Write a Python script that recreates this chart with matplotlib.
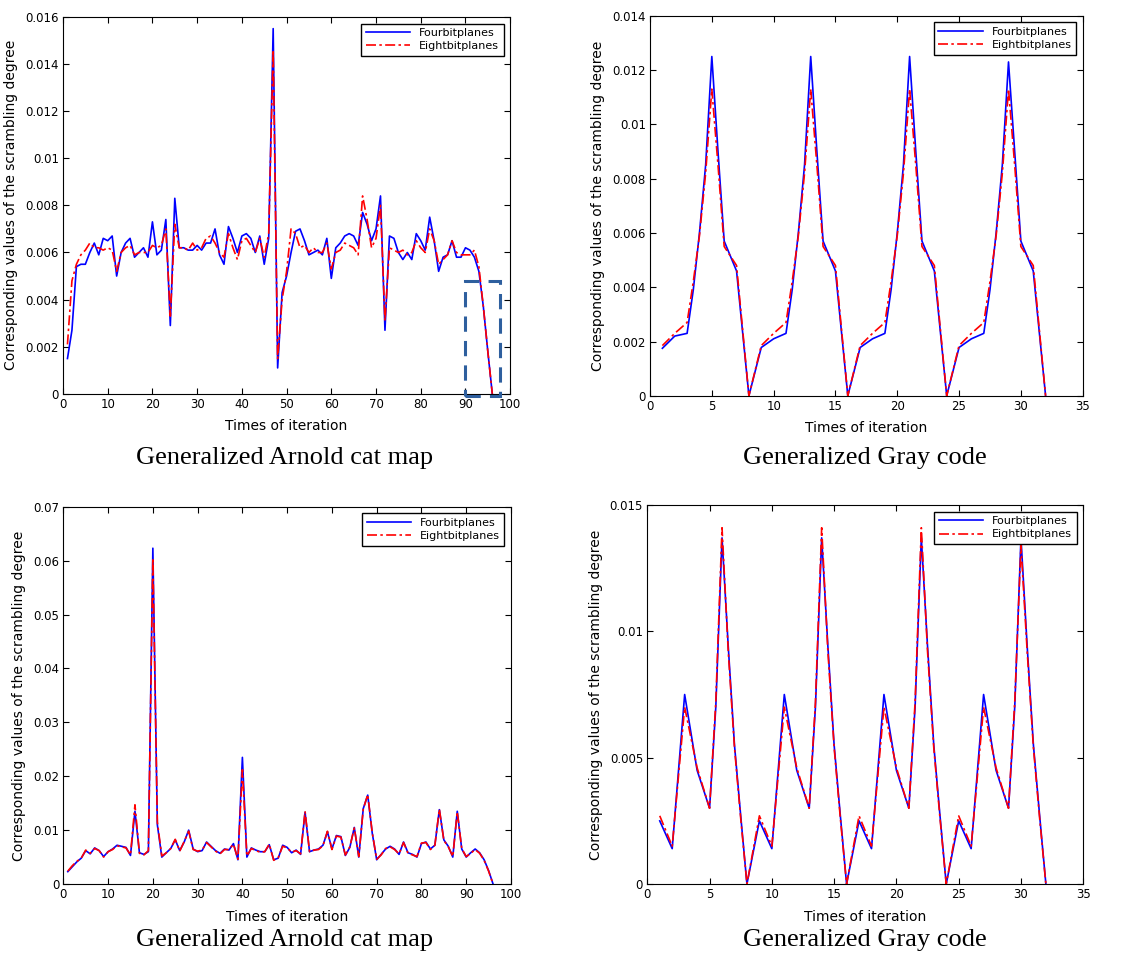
import matplotlib.pyplot as plt
from matplotlib.patches import Rectangle
import numpy as np

# iteration numbers for the Arnold cat map runs
iters_cat = np.arange(1, 97)

# Generalized Arnold cat map (top)
cat1_four = [0.0015, 0.0027, 0.0054, 0.0055, 0.0055, 0.0060, 0.0064, 0.0059, 0.0066, 0.0065,
             0.0067, 0.0050, 0.0060, 0.0064, 0.0066, 0.0058, 0.0060, 0.0062, 0.0058, 0.0073,
             0.0059, 0.0061, 0.0074, 0.0029, 0.0083, 0.0062, 0.0062, 0.0061, 0.0061, 0.0063,
             0.0061, 0.0064, 0.0064, 0.0070, 0.0059, 0.0055, 0.0071, 0.0066, 0.0060, 0.0067,
             0.0068, 0.0066, 0.0060, 0.0067, 0.0055, 0.0066, 0.0155, 0.0011, 0.0043, 0.0050,
             0.0060, 0.0069, 0.0070, 0.0065, 0.0059, 0.0060, 0.0061, 0.0059, 0.0066, 0.0049,
             0.0062, 0.0064, 0.0067, 0.0068, 0.0067, 0.0063, 0.0077, 0.0072, 0.0065, 0.0070,
             0.0084, 0.0027, 0.0067, 0.0066, 0.0060, 0.0057, 0.0060, 0.0057, 0.0068, 0.0065,
             0.0061, 0.0075, 0.0065, 0.0052, 0.0058, 0.0059, 0.0065, 0.0058, 0.0058, 0.0062,
             0.0061, 0.0058, 0.0052, 0.0037, 0.0018, 0.0]
cat1_eight = [0.0021, 0.0048, 0.0055, 0.0059, 0.0061, 0.0064, 0.0062, 0.0062, 0.0061, 0.0062,
              0.0061, 0.0052, 0.0060, 0.0062, 0.0063, 0.0059, 0.0060, 0.0060, 0.0060, 0.0063,
              0.0062, 0.0063, 0.0070, 0.0033, 0.0072, 0.0062, 0.0062, 0.0061, 0.0064, 0.0061,
              0.0062, 0.0066, 0.0067, 0.0064, 0.0060, 0.0058, 0.0068, 0.0062, 0.0057, 0.0065,
              0.0066, 0.0063, 0.0060, 0.0066, 0.0058, 0.0068, 0.0146, 0.0015, 0.0040, 0.0052,
              0.0070, 0.0068, 0.0062, 0.0063, 0.0060, 0.0062, 0.0060, 0.0060, 0.0064, 0.0053,
              0.0060, 0.0061, 0.0064, 0.0063, 0.0062, 0.0059, 0.0084, 0.0074, 0.0062, 0.0066,
              0.0080, 0.0031, 0.0062, 0.0061, 0.0060, 0.0061, 0.0059, 0.0060, 0.0065, 0.0062,
              0.0060, 0.0070, 0.0065, 0.0055, 0.0057, 0.0059, 0.0065, 0.0060, 0.0059, 0.0059,
              0.0059, 0.0061, 0.0054, 0.0037, 0.0018, 0.0]

# Generalized Arnold cat map (bottom)
cat2_four = [0.0023, 0.0032, 0.0041, 0.0048, 0.0062, 0.0056, 0.0067, 0.0062, 0.0051, 0.0060,
             0.0065, 0.0072, 0.0070, 0.0068, 0.0053, 0.0135, 0.0058, 0.0055, 0.0060, 0.0623,
             0.0110, 0.0050, 0.0058, 0.0066, 0.0082, 0.0062, 0.0078, 0.0100, 0.0065, 0.0060,
             0.0062, 0.0078, 0.0070, 0.0062, 0.0057, 0.0065, 0.0063, 0.0075, 0.0045, 0.0235,
             0.0050, 0.0067, 0.0063, 0.0060, 0.0060, 0.0073, 0.0045, 0.0048, 0.0072, 0.0068,
             0.0058, 0.0063, 0.0055, 0.0133, 0.0060, 0.0063, 0.0065, 0.0072, 0.0097, 0.0065,
             0.0090, 0.0088, 0.0053, 0.0068, 0.0105, 0.0050, 0.0140, 0.0165, 0.0095, 0.0045,
             0.0055, 0.0065, 0.0070, 0.0065, 0.0055, 0.0078, 0.0058, 0.0055, 0.0050, 0.0075,
             0.0078, 0.0065, 0.0072, 0.0138, 0.0082, 0.0070, 0.0050, 0.0135, 0.0065, 0.0050,
             0.0058, 0.0065, 0.0058, 0.0045, 0.0025, 0.0]
cat2_eight = [0.0024, 0.0034, 0.0042, 0.0048, 0.0063, 0.0057, 0.0066, 0.0062, 0.0050, 0.0060,
              0.0064, 0.0071, 0.0069, 0.0067, 0.0054, 0.0147, 0.0057, 0.0054, 0.0062, 0.0605,
              0.0115, 0.0052, 0.0058, 0.0066, 0.0083, 0.0061, 0.0079, 0.0098, 0.0064, 0.0061,
              0.0063, 0.0077, 0.0069, 0.0061, 0.0056, 0.0064, 0.0064, 0.0074, 0.0046, 0.0212,
              0.0052, 0.0066, 0.0062, 0.0059, 0.0060, 0.0074, 0.0044, 0.0049, 0.0070, 0.0067,
              0.0059, 0.0062, 0.0056, 0.0135, 0.0060, 0.0063, 0.0064, 0.0071, 0.0098, 0.0064,
              0.0089, 0.0087, 0.0054, 0.0069, 0.0104, 0.0051, 0.0139, 0.0166, 0.0096, 0.0046,
              0.0054, 0.0066, 0.0069, 0.0064, 0.0056, 0.0077, 0.0057, 0.0054, 0.0051, 0.0076,
              0.0077, 0.0064, 0.0072, 0.0139, 0.0081, 0.0069, 0.0051, 0.0134, 0.0066, 0.0051,
              0.0057, 0.0064, 0.0057, 0.0044, 0.0024, 0.0]

# Generalized Gray code (top)
gray1_x = [1, 2, 3, 3.5, 4, 4.5, 5, 5.5, 6, 7, 8,
           9, 10, 11, 11.5, 12, 12.5, 13, 13.5, 14, 15, 16,
           17, 18, 19, 19.5, 20, 20.5, 21, 21.5, 22, 23, 24,
           25, 26, 27, 27.5, 28, 28.5, 29, 29.5, 30, 31, 32]
gray1_four = [0.00175, 0.0022, 0.0023, 0.0039, 0.0060, 0.0085, 0.0125, 0.0090, 0.0057, 0.0046, 0.0,
              0.00178, 0.0021, 0.0023, 0.0039, 0.0060, 0.0085, 0.0125, 0.0090, 0.0057, 0.0046, 0.0,
              0.00178, 0.0021, 0.0023, 0.0039, 0.0060, 0.0085, 0.0125, 0.0090, 0.0057, 0.0046, 0.0,
              0.00178, 0.0021, 0.0023, 0.0039, 0.0060, 0.0085, 0.0123, 0.0090, 0.0057, 0.0046, 0.0]
gray1_eight = [0.00185, 0.0023, 0.0027, 0.0042, 0.0059, 0.0082, 0.0113, 0.0085, 0.0055, 0.0048, 0.0,
               0.00185, 0.0023, 0.0027, 0.0042, 0.0059, 0.0082, 0.0113, 0.0085, 0.0055, 0.0048, 0.0,
               0.00185, 0.0023, 0.0027, 0.0042, 0.0059, 0.0082, 0.0113, 0.0085, 0.0055, 0.0048, 0.0,
               0.00185, 0.0023, 0.0027, 0.0042, 0.0059, 0.0082, 0.0113, 0.0085, 0.0055, 0.0048, 0.0]

# Generalized Gray code (bottom)
gray2_x = [1, 2, 3, 4, 5, 5.5, 6, 6.5, 7, 7.5, 8,
           9, 10, 11, 12, 13, 13.5, 14, 14.5, 15, 15.5, 16,
           17, 18, 19, 20, 21, 21.5, 22, 22.5, 23, 23.5, 24,
           25, 26, 27, 28, 29, 29.5, 30, 30.5, 31, 31.5, 32]
gray2_four = [0.0025, 0.0014, 0.0075, 0.0045, 0.0030, 0.0070, 0.0137, 0.0094, 0.0055, 0.0027, 0.0,
              0.0025, 0.0014, 0.0075, 0.0045, 0.0030, 0.0070, 0.0137, 0.0094, 0.0055, 0.0027, 0.0,
              0.0025, 0.0014, 0.0075, 0.0045, 0.0030, 0.0070, 0.0137, 0.0094, 0.0055, 0.0027, 0.0,
              0.0025, 0.0014, 0.0075, 0.0045, 0.0030, 0.0070, 0.0137, 0.0094, 0.0055, 0.0027, 0.0]
gray2_eight = [0.0027, 0.0015, 0.0070, 0.0046, 0.0030, 0.0072, 0.0141, 0.0092, 0.0054, 0.0026, 0.0,
               0.0027, 0.0015, 0.0070, 0.0046, 0.0030, 0.0072, 0.0141, 0.0092, 0.0054, 0.0026, 0.0,
               0.0027, 0.0015, 0.0070, 0.0046, 0.0030, 0.0072, 0.0141, 0.0092, 0.0054, 0.0026, 0.0,
               0.0027, 0.0015, 0.0070, 0.0046, 0.0030, 0.0072, 0.0134, 0.0092, 0.0054, 0.0026, 0.0]

captions = ["Generalized Arnold cat map", "Generalized Gray code"]
ylabel = "Corresponding values of the scrambling degree"
xlabel = "Times of iteration"


def draw_panel(ax, x, four, eight, xmax, xstep, ymax, ystep):
    ax.plot(x, four, color='#0000ff', lw=1.2, label='Fourbitplanes')
    ax.plot(x, eight, color='#ff0000', lw=1.2, ls=(0, (6, 2, 1.5, 2)), label='Eightbitplanes')
    ax.set_xlim(0, xmax)
    ax.set_ylim(0, ymax)
    ax.set_xticks(np.arange(0, xmax + 0.1, xstep))
    ax.set_yticks(np.arange(0, ymax + ystep / 2, ystep))
    ax.yaxis.set_major_formatter(plt.FormatStrFormatter('%g'))
    ax.tick_params(direction='in', top=True, right=True, labelsize=8.5, length=4, pad=3)
    ax.set_ylabel(ylabel, fontsize=10, labelpad=5)
    ax.set_xlabel(xlabel, fontsize=10, labelpad=6)
    leg = ax.legend(loc='upper right', fontsize=8, fancybox=False, framealpha=1,
                    edgecolor='black', handlelength=4, borderpad=0.4, labelspacing=0.3,
                    borderaxespad=0.6)
    leg.get_frame().set_linewidth(1.0)


fig = plt.figure(figsize=(11.35, 9.63), dpi=100)

ax1 = fig.add_axes([0.0555, 0.591, 0.394, 0.3915])
draw_panel(ax1, iters_cat, cat1_four, cat1_eight, 100, 10, 0.016, 0.002)
# dashed box marking the tail of the curve
ax1.add_patch(Rectangle((89.8, -0.0001), 7.9, 0.0049, fill=False, ec='#2e5f9e',
                        lw=2.2, ls=(0, (5, 3)), clip_on=False, zorder=5))

ax2 = fig.add_axes([0.5727, 0.589, 0.3812, 0.3946])
draw_panel(ax2, gray1_x, gray1_four, gray1_eight, 35, 5, 0.014, 0.002)

ax3 = fig.add_axes([0.0558, 0.082, 0.3944, 0.3918])
draw_panel(ax3, iters_cat, cat2_four, cat2_eight, 100, 10, 0.07, 0.01)

ax4 = fig.add_axes([0.5703, 0.082, 0.3841, 0.3936])
draw_panel(ax4, gray2_x, gray2_four, gray2_eight, 35, 5, 0.015, 0.005)

for xc, yc, txt in [(285, 458, captions[0]), (865, 458, captions[1]),
                    (285, 940, captions[0]), (865, 940, captions[1])]:
    fig.text(xc / 1135, 1 - yc / 963, txt, ha='center', va='center',
             fontsize=19, family='Liberation Serif')

fig.savefig('out.png', dpi=100)
